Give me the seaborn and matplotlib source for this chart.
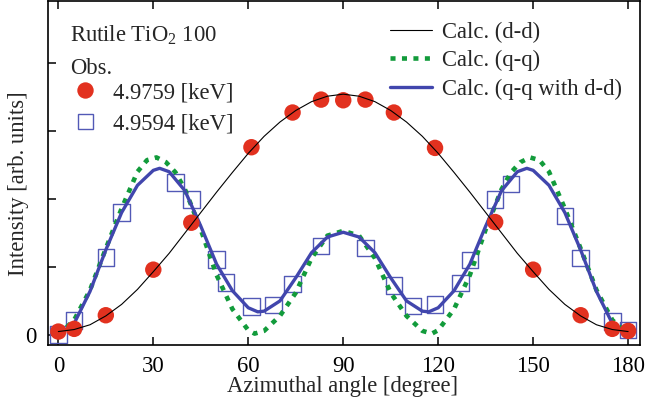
import matplotlib
matplotlib.use("Agg")
import matplotlib.pyplot as plt
import seaborn as sns
from matplotlib.lines import Line2D

obs_a_angle = [0, 5, 15, 30, 42, 61, 74, 83, 90, 97, 106, 119, 138, 150, 165, 175, 180]
obs_a_int = [0.05, 0.09, 0.29, 0.96, 1.65, 2.76, 3.27, 3.46, 3.45, 3.46, 3.27, 2.75, 1.66, 0.96, 0.29, 0.09, 0.06]

obs_b_angle = [0, 5, 15, 20, 37, 42, 50, 53, 61, 68, 74, 83, 97, 106, 112, 119, 127, 130, 138, 143, 160, 165, 175, 180]
obs_b_int = [0.01, 0.21, 1.14, 1.80, 2.24, 1.99, 1.11, 0.77, 0.42, 0.44, 0.75, 1.31, 1.28, 0.73, 0.43, 0.45, 0.76, 1.10, 1.99, 2.22, 1.75, 1.13, 0.20, 0.07]

# ---- calculated curves ----
dd_angle = [0, 5, 10, 15, 20, 25, 30, 35, 40, 45, 50, 55, 60, 65, 70, 75, 80, 85, 90,
            95, 100, 105, 110, 115, 120, 125, 130, 135, 140, 145, 150, 155, 160, 165, 170, 175, 180]
dd_int = [0.05, 0.08, 0.15, 0.28, 0.45, 0.67, 0.93, 1.20, 1.50, 1.80, 2.10, 2.39, 2.67, 2.92, 3.13, 3.30, 3.43, 3.51, 3.54,
          3.51, 3.43, 3.30, 3.13, 2.92, 2.67, 2.39, 2.10, 1.80, 1.50, 1.20, 0.93, 0.67, 0.45, 0.28, 0.15, 0.08, 0.05]

qq_angle = [0, 5, 10, 15, 20, 25, 28, 31, 34, 37, 40, 45, 50, 55, 60, 62, 65, 70, 75, 80, 85, 90,
            95, 100, 105, 110, 115, 118, 120, 125, 130, 135, 140, 143, 146, 149, 152, 155, 160, 165, 170, 175, 180]
qq_int = [0.0, 0.22, 0.66, 1.27, 1.86, 2.40, 2.57, 2.61, 2.54, 2.39, 2.14, 1.55, 0.88, 0.38, 0.07, 0.02, 0.06, 0.28, 0.62, 1.13, 1.46, 1.53,
          1.46, 1.13, 0.62, 0.28, 0.06, 0.02, 0.07, 0.38, 0.88, 1.55, 2.14, 2.39, 2.54, 2.61, 2.57, 2.40, 1.86, 1.27, 0.66, 0.22, 0.0]

qqdd_angle = [0, 5, 10, 15, 20, 25, 30, 32, 35, 40, 45, 50, 55, 60, 63, 65, 70, 75, 80, 85, 90,
              95, 100, 105, 110, 115, 117, 120, 125, 130, 135, 140, 145, 148, 150, 155, 160, 165, 170, 175, 180]
qqdd_int = [0.0, 0.17, 0.64, 1.25, 1.80, 2.20, 2.42, 2.45, 2.40, 2.12, 1.60, 1.04, 0.65, 0.40, 0.34, 0.35, 0.50, 0.84, 1.21, 1.44, 1.51,
            1.44, 1.21, 0.84, 0.50, 0.35, 0.34, 0.40, 0.65, 1.04, 1.60, 2.12, 2.40, 2.45, 2.42, 2.20, 1.80, 1.25, 0.64, 0.17, 0.0]

x_ticks = [0, 30, 60, 90, 120, 150, 180]
y_ticks = [0, 1, 2, 3, 4]
y_ticklabels = ["0", "", "", "", ""]

labels_obs = ["4.9759 [keV]", "4.9594 [keV]"]
labels_calc = ["Calc. (d-d)", "Calc. (q-q)", "Calc. (q-q with d-d)"]

RED = "#e2311f"
SQ = "#5259b6"
GREEN = "#129b3b"
BLUE = "#4146ad"

sns.set_theme(style="ticks")
plt.rcParams['font.family'] = ['Liberation Serif', 'DejaVu Serif']
plt.rcParams['mathtext.fontset'] = 'custom'
plt.rcParams['mathtext.rm'] = 'Liberation Serif'
FS = 16.3

fig = plt.figure(figsize=(6.45, 4.03), dpi=100)
ax = fig.add_axes([0.074, 0.144, 0.918, 0.8536])

sns.scatterplot(x=obs_b_angle, y=obs_b_int, ax=ax, marker="s", s=140,
                linewidth=1.0, zorder=2, legend=False)
ax.collections[-1].set_facecolor("none")
ax.collections[-1].set_edgecolor(SQ)

sns.lineplot(x=qq_angle, y=qq_int, ax=ax, color=GREEN, linewidth=3.3,
             linestyle=(0, (1.1, 1.4)), sort=False, estimator=None, zorder=3)
sns.lineplot(x=qqdd_angle, y=qqdd_int, ax=ax, color=BLUE, linewidth=2.4,
             sort=False, estimator=None, zorder=4)
sns.scatterplot(x=obs_a_angle, y=obs_a_int, ax=ax, marker="o", s=140, color=RED,
                edgecolor="none", zorder=5, legend=False)
sns.lineplot(x=dd_angle, y=dd_int, ax=ax, color="black", linewidth=0.8,
             sort=False, estimator=None, zorder=6)

ax.set_xlim(-3.35, 183.7)
ax.set_ylim(-0.147, 4.91)
ax.set_xticks(x_ticks)
ax.set_yticks(y_ticks)
ax.set_yticklabels(y_ticklabels)
ax.tick_params(axis="both", direction="in", length=6, width=1.1, labelsize=FS, colors="black")
ax.tick_params(axis="x", top=True, pad=8)
ax.tick_params(axis="y", right=False, pad=8)
for s in ax.spines.values():
    s.set_linewidth(1.2)
    s.set_color("black")

ax.set_xlabel("Azimuthal angle [degree]", fontsize=FS)
ax.set_ylabel("Intensity [arb. units]", fontsize=FS)
ax.xaxis.set_label_coords(0.4986, -0.121)
ax.yaxis.set_label_coords(-0.05, 0.47)
ax.xaxis.label.set_va("center")
ax.yaxis.label.set_va("center")

ax.text(0.0376, 0.882, r"Rutile TiO$_\mathregular{2}$ 100", transform=ax.transAxes,
        fontsize=FS, ha="left", va="baseline")
ax.text(0.0376, 0.788, "Obs.", transform=ax.transAxes, fontsize=FS, ha="left", va="baseline")

h_obs = [Line2D([], [], marker="o", linestyle="none", markersize=11.8, color=RED, markeredgecolor="none"),
         Line2D([], [], marker="s", linestyle="none", markersize=10.8, markerfacecolor="none",
                markeredgecolor=SQ, markeredgewidth=1.0)]
leg1 = ax.legend(h_obs, labels_obs, loc="upper left", bbox_to_anchor=(0.044, 0.764),
                 frameon=False, fontsize=FS, handlelength=1.0, handletextpad=0.74,
                 borderpad=0, borderaxespad=0, labelspacing=0.44)
ax.add_artist(leg1)

h_calc = [Line2D([], [], color="black", linewidth=0.8),
          Line2D([], [], color=GREEN, linewidth=3.3, linestyle=(0, (1.1, 1.4))),
          Line2D([], [], color=BLUE, linewidth=2.4)]
ax.legend(h_calc, labels_calc, loc="upper left", bbox_to_anchor=(0.578, 0.94),
          frameon=False, fontsize=FS, handlelength=1.86, handletextpad=0.43,
          borderpad=0, borderaxespad=0, labelspacing=0.33)

fig.savefig("out.png", dpi=100)
